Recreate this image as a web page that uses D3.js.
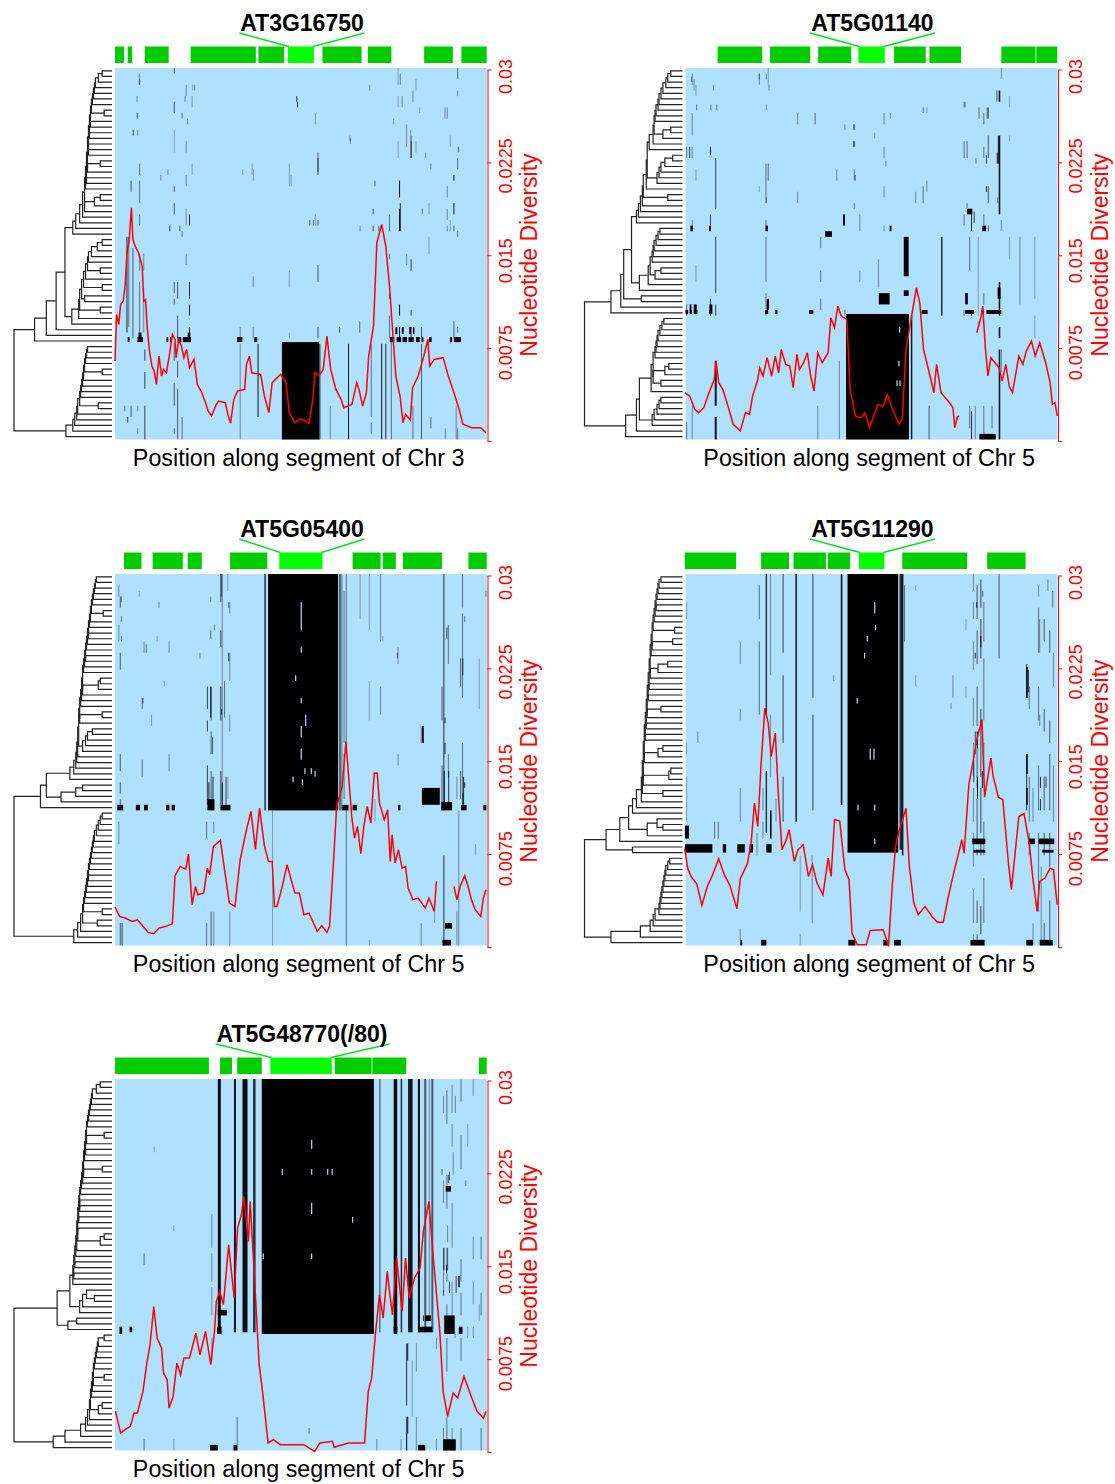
<!DOCTYPE html>
<html>
<head>
<meta charset="utf-8">
<script src="https://cdn.jsdelivr.net/npm/d3@7"></script>
<style>
  body { margin: 0; background: #fff; }
  svg { display: block; font-family: "Liberation Sans", Arial, sans-serif; }
</style>
</head>
<body>
<div id="chart"></div>
<script>
// Common axis values
const yTicks = [0.03, 0.0225, 0.015, 0.0075, 0];
const yTickLabels = ["0.03", "0.0225", "0.015", "0.0075", ""];
const yTickShift = [6.5, 3, 5, 4, 0];
const rowCount = 66;

const titles = ["AT3G16750", "AT5G01140", "AT5G05400", "AT5G11290", "AT5G48770(/80)"];
const xLabels = ["Position along segment of Chr 3", "Position along segment of Chr 5", "Position along segment of Chr 5", "Position along segment of Chr 5", "Position along segment of Chr 5"];

// Exons as [start, end] in % of the segment, focal gene separately
const exons1 = [[0.2, 2.6], [3.6, 4.8], [8.2, 14.6], [20.5, 38.0], [38.7, 45.6], [55.9, 66.4], [68.1, 74.4], [83.2, 90.9], [93.2, 100]];
const exons2 = [[8.8, 20.8], [22.9, 33.7], [35.8, 44.7], [56.2, 64.7], [65.7, 74.2], [85.0, 94.2], [94.4, 100]];
const exons3 = [[2.6, 7.3], [10.3, 18.4], [19.7, 23.5], [31.1, 41.1], [64.0, 71.5], [72.1, 75.6], [77.5, 88.0], [95.1, 100]];
const exons4 = [[0, 13.8], [20.5, 28.0], [29.2, 37.9], [38.4, 44.4], [58.4, 75.8], [81.2, 91.5]];
const exons5 = [[0.2, 25.4], [28.4, 31.6], [33.0, 39.6], [59.2, 69.1], [69.3, 78.4], [97.9, 100]];
const focal = [[46.6, 53.6], [46.6, 53.7], [44.3, 55.9], [46.8, 53.6], [41.9, 58.4]];
const leaderEnds = [[33.6, 67.2], [33.6, 67.2], [33.6, 67.2], [33.6, 67.2], [27.2, 73.9]];

// Nucleotide diversity as [position %, pi x 1000], null breaks the line
const line1 = [[0.2,6.46],[0.6,10.22],[1.2,9.42],[1.7,11.03],[2.4,11.3],[2.9,12.51],[3.4,15.2],[4.0,16.27],[4.6,18.83],[5.0,16.27],[5.6,15.74],[6.5,15.2],[7.5,14.12],[7.9,11.3],[8.4,11.43],[8.8,9.28],[9.4,7.4],[10.1,6.05],[10.7,5.65],[11.3,4.57],[12.0,6.86],[12.7,5.25],[13.2,5.78],[14.0,5.51],[14.9,7.13],[15.6,8.61],[16.3,8.2],[16.6,6.73],[17.3,8.2],[18.0,7.67],[18.7,6.73],[19.4,7.4],[20.2,5.92],[21.4,6.59],[22.3,4.57],[23.5,3.9],[24.5,3.09],[25.2,2.42],[26.1,2.02],[27.4,2.96],[28.0,3.23],[29.8,3.09],[30.5,2.15],[31.2,1.43],[32.1,3.36],[33.1,4.04],[35.0,4.17],[35.5,6.19],[36.3,6.86],[36.9,5.51],[39.3,5.38],[40.3,3.63],[41.5,2.29],[42.4,4.71],[44.6,5.38],[46.1,4.71],[47.0,2.29],[48.5,1.48],[49.9,1.75],[50.9,1.69],[52.3,1.43],[53.3,3.36],[53.9,5.51],[55.0,5.25],[56.1,5.78],[57.1,8.47],[58.1,5.78],[59.5,4.17],[60.9,3.36],[61.6,2.69],[63.8,2.96],[65.1,4.71],[65.7,4.17],[66.7,2.82],[67.7,3.9],[68.3,6.86],[69.6,9.28],[70.5,16.0],[71.8,17.49],[72.9,15.74],[73.9,12.51],[74.9,8.2],[75.6,5.25],[76.8,3.5],[77.5,1.48],[78.2,2.15],[79.5,1.69],[80.1,4.3],[81.6,5.25],[83.0,6.73],[84.2,8.2],[84.7,6.05],[85.9,6.59],[88.3,6.73],[89.7,5.25],[91.2,3.9],[92.6,2.56],[93.6,1.35],[96.0,1.08],[98.4,1.08],[99.8,0.67]];
const line2 = [[0,3.9],[1.3,3.63],[2.7,2.56],[3.7,2.29],[5.1,2.69],[6.5,3.9],[7.9,4.97],[8.4,6.46],[9.1,4.71],[10.2,4.17],[11.6,2.82],[13.0,1.35],[14.9,0.81],[16.3,2.29],[17.4,2.15],[18.2,3.63],[19.6,4.97],[20.1,5.92],[21.0,5.25],[22.1,6.73],[23.3,5.25],[24.3,6.86],[25.2,5.51],[25.9,7.4],[27.1,6.19],[28.2,6.05],[29.1,4.3],[30.1,7.0],[30.8,5.78],[31.9,6.32],[32.9,7.13],[33.8,5.25],[34.7,4.04],[35.7,7.13],[36.9,6.32],[38.5,7.13],[39.2,9.95],[40.2,9.15],[41.1,10.9],[42.0,10.09],[43.5,9.82],[44.4,4.17],[45.8,2.02],[47.2,1.88],[48.4,2.29],[49.6,1.08],[51.0,2.29],[51.9,2.96],[53.3,2.82],[54.4,3.76],[55.6,2.69],[57.5,1.35],[58.4,1.75],[59.4,7.4],[61.2,10.63],[62.2,12.38],[63.1,11.16],[64.1,7.4],[65.0,6.32],[66.9,3.9],[67.6,6.19],[68.8,3.9],[71.1,3.09],[72.0,2.69],[72.5,1.08],[73.2,1.96],[73.7,2.02],null,[78.4,8.74],[79.5,9.95],[80.0,10.9],[80.7,7.53],[81.4,5.25],[82.2,6.73],[83.3,6.32],[84.4,5.92],[85.2,4.84],[86.2,6.19],[87.1,4.44],[88.0,3.9],[89.7,6.86],[90.8,6.19],[91.7,7.26],[93.1,8.07],[94.1,6.86],[95.3,7.94],[96.9,6.32],[98.1,4.71],[98.7,2.96],[99.4,3.09],[100,2.02]];
const line3 = [[0.2,3.23],[1.4,2.47],[2.9,2.34],[4.8,2.07],[6.2,2.2],[7.7,1.67],[9.1,1.18],[10.6,1.08],[12.0,1.53],[13.9,1.67],[15.6,1.88],[16.3,5.76],[17.7,6.51],[19.2,6.29],[19.9,7.53],[20.9,3.42],[21.8,4.9],[22.4,4.22],[24.0,4.36],[25.0,6.37],[25.6,5.83],[26.6,8.12],[28.5,8.61],[29.6,6.24],[30.9,3.55],[32.4,3.28],[33.8,7.05],[35.5,9.47],[36.7,10.95],[37.9,7.88],[39.0,11.22],[40.3,8.18],[41.4,6.91],[42.4,6.91],[43.0,3.28],[43.7,3.28],[45.1,4.9],[46.4,6.64],[47.5,5.43],[48.5,4.36],[49.7,4.36],[50.9,2.61],[52.3,2.74],[54.5,1.26],[55.7,1.72],[57.1,1.18],[57.8,1.67],[59.0,7.59],[59.7,11.35],[61.2,12.97],[62.2,16.6],[63.2,12.7],[63.8,10.4],[64.5,8.79],[65.3,9.74],[66.2,7.53],[67.0,9.74],[67.9,11.35],[68.9,10.0],[69.8,14.05],[70.6,14.05],[71.2,11.62],[72.5,10.27],[73.4,11.08],[74.1,6.91],[74.6,9.07],[75.4,6.78],[76.3,7.85],[77.3,6.37],[78.2,6.51],[78.9,4.76],[80.2,3.82],[81.6,3.95],[83.5,3.15],[84.5,3.95],[85.9,2.87],[86.5,5.3],null,[91.2,4.9],[92.0,3.82],[92.9,4.9],[94.1,5.76],[95.0,4.9],[95.9,3.82],[96.9,3.01],[98.4,2.47],[99.1,3.95],[99.8,4.63]];
const line4 = [[0,7.93],[0.8,6.32],[1.8,5.64],[3.2,5.1],[4.6,3.36],[6.0,4.84],[7.4,5.78],[9.1,7.13],[10.7,5.78],[12.1,4.98],[14.0,3.09],[14.9,5.51],[16.8,6.73],[17.8,8.39],[18.7,11.62],[19.6,9.74],[20.5,14.85],[21.5,19.29],[22.4,18.08],[23.2,15.38],[24.3,17.27],[25.1,12.44],[26.1,7.85],[27.1,8.53],[28.0,9.47],[29.4,6.91],[30.4,7.85],[31.8,8.26],[33.2,5.7],[34.3,6.64],[35.5,5.16],[37.1,4.22],[38.5,7.18],[39.3,5.7],[40.2,10.3],[41.6,10.17],[43.0,6.24],[44.1,5.43],[44.9,1.13],[46.3,0.19],[48.7,0.19],[49.8,1.34],[53.3,1.4],[54.7,0.05],[55.7,4.9],[56.6,8.12],[57.5,9.33],[59.4,11.2],[60.3,6.51],[61.5,3.55],[62.7,2.61],[64.5,3.28],[66.4,2.47],[67.8,2.0],[69.4,2.0],[70.6,3.82],[72.0,5.7],[74.4,8.66],[75.0,7.58],[76.3,13.2],[77.2,14.58],[78.6,17.0],[79.8,18.35],[80.5,12.1],[82.2,15.25],[82.8,13.77],[84.2,12.1],[85.4,11.89],[86.9,6.78],[87.7,4.63],[89.7,10.54],[91.1,10.76],[92.5,8.39],[93.4,5.7],[94.6,2.88],[95.3,5.3],[96.7,5.57],[98.1,6.37],[99.0,6.24],[100,3.42]];
const line5 = [[0.3,3.3],[1.7,1.53],[2.9,1.8],[4.3,2.07],[5.3,3.15],[6.2,3.15],[7.7,4.9],[8.8,7.32],[9.6,8.66],[10.6,11.75],[11.5,9.2],[12.7,8.39],[13.2,6.37],[14.2,5.84],[14.7,3.55],[15.8,4.49],[16.8,7.18],[17.8,6.24],[18.7,7.59],[20.2,7.59],[21.1,8.66],[21.9,9.6],[23.0,7.85],[24.5,9.74],[25.9,7.05],[26.9,9.74],[27.4,12.16],[28.3,12.97],[29.3,11.89],[30.7,16.73],[32.2,12.43],[33.1,18.08],[34.1,19.15],[34.8,20.64],[36.0,17.0],[36.5,20.23],[37.6,14.31],[38.9,7.05],[39.8,4.9],[41.3,0.73],[42.7,1.0],[44.6,0.59],[48.0,0.59],[50.9,0.59],[53.8,0.05],[55.2,0.73],[58.6,0.86],[59.0,0.38],[62.9,0.73],[67.2,0.73],[68.2,4.9],[69.1,5.97],[70.1,9.47],[71.2,12.7],[72.2,10.81],[73.3,14.58],[73.9,12.97],[74.7,11.08],[75.8,15.66],[77.3,11.35],[78.2,15.66],[79.2,12.43],[80.6,14.04],[82.1,14.85],[83.0,17.81],[84.5,20.23],[85.6,15.92],[87.4,9.74],[88.3,4.9],[89.5,2.88],[91.0,4.76],[92.2,4.36],[93.9,6.1],[96.0,4.36],[97.4,3.28],[99.1,2.74],[99.8,3.28]];

// Merge height between each pair of neighbouring rows, this fixes the dendrogram
const tree1 = [10,14,17,18,19,20,21,8,22,22,23,23,24,24,24,25,12,25,26,26,27,28,12,18,28,30,33,37,40,48,10,15,21,24,25,12,27,29,10,31,28,33,12,34,41,57,67,79,100,25,26,27,28,10,29,30,31,32,33,14,35,36,38,40,47];
const tree2 = [12,15,17,20,22,24,25,27,28,29,12,20,30,34,36,10,18,22,24,26,37,40,15,41,43,45,47,52,23,25,27,29,30,31,33,22,28,35,44,60,42,63,73,100,19,21,23,25,26,27,28,30,14,18,30,22,32,44,22,24,26,29,31,47,58];
const tree3 = [16,17,18,19,20,21,9,22,23,24,24,25,26,27,27,28,29,30,12,14,30,31,32,33,10,33,34,20,25,27,30,35,36,37,39,43,67,30,37,52,73,100,10,12,14,16,18,19,20,21,22,23,24,24,25,26,27,28,29,10,30,15,32,35,39];
const tree4 = [22,24,25,26,27,27,28,29,30,8,31,10,31,32,33,15,25,33,34,34,35,35,36,22,36,37,37,38,38,39,20,25,39,40,12,14,40,41,20,42,47,51,55,26,20,36,64,78,51,100,13,15,17,18,19,20,21,22,23,24,28,30,33,43,73];
const tree5 = [12,16,20,21,22,23,24,25,26,8,26,27,27,28,29,10,29,30,31,32,33,33,33,34,34,35,35,8,12,36,37,38,38,39,39,40,43,26,18,30,33,56,36,45,100,8,14,15,16,17,18,19,8,19,20,21,22,10,14,23,25,27,32,48,60];

// Solid black cells as [start %, end %, first row, last row]
const blocks1 = [[45,55,48.7,66],[3.6,4.1,47.8,48.7],[6.2,7.7,47.8,48.7],[14,14.5,47.8,48.7],[15,15.4,47.8,48.7],[17,18,47.8,48.7],[18.4,20.6,47.8,48.7],[33,34.4,47.8,48.7],[37.6,38.4,47.8,48.7],[74,75.2,47.8,48.7],[75.8,77,47.8,48.7],[77.4,78.6,47.8,48.7],[79,80.4,47.8,48.7],[81,82,47.8,48.7],[82.5,83,47.8,48.7],[84.5,85.2,47.8,48.7],[90.2,90.7,47.8,48.7],[91.2,93.1,47.8,48.7],[75.5,76,46,47.3],[77.2,77.7,46,47.3],[79.2,79.7,46,47.3],[80.2,80.6,46,47.3],[6.5,7.3,47,47.8],[19.7,20.4,47,47.8]];
const blocks2 = [[43.3,60.2,43.7,66],[37.7,39.5,29,30],[58.8,60.1,30,37],[52.1,55,40,42],[58.8,60.1,39.5,40.5],[42.5,43,26,28],[0.2,0.9,43,43.7],[1.3,1.9,43,43.7],[2.4,3.4,43,43.7],[6.5,7.4,43,43.7],[21.5,22.4,43,43.7],[24.3,24.9,43,43.7],[33.4,34.5,43,43.7],[63.6,65.2,43,43.7],[75.3,77.7,43,43.7],[79.6,80.3,43,43.7],[81,85,43,43.7],[79.1,83.5,65,66],[1.3,1.8,42,43],[2.4,3.2,42,43],[6.6,7.4,42,43],[22,22.6,41,43],[75.8,77.2,25,26],[1.5,2.2,28,29],[6.5,7,28,29],[21.7,22.3,28,29],[55,55.5,28,29],[79.9,80.9,28,29],[75.3,76,40,42],[84,84.8,39,41]];
const blocks3 = [[41.3,60.1,0,42],[82.6,87.4,38,41],[88.8,90.7,62,63],[88.1,90.4,65,66],[82.6,83.1,27,30],[0.8,2.4,41,42],[5.8,6.9,41,42],[8,9,41,42],[13.9,14.8,41,42],[15.4,16.3,41,42],[25,26.9,40,42],[28.5,31.2,41,42],[61.2,62.9,41,42],[64,65.2,41,42],[76.2,76.8,41,42],[87.8,90.7,40.5,42],[93.1,94.6,41,42],[99.1,99.9,41,42]];
const blocks4 = [[43.7,57.3,0,49.5],[22.9,23.3,42,47],[0,1.1,44.7,47],[0,7.4,48,49.5],[10.2,11.1,48,49.5],[14.1,16.1,48,49.5],[17.4,18.3,48,49.5],[21.9,23.3,48,49.5],[77.2,80.7,47,48],[77.5,80.7,49,49.5],[92.2,94,47,48],[95,99.2,47,48],[96,99,49,49.5],[14.9,15.4,65,66],[20.5,21.9,65,66],[43.9,45.8,65,66],[53.3,54.7,65,66],[56.2,58,65,66],[76.7,80.5,65,66],[91.7,93.5,65,66],[95.3,98.8,65,66]];
const blocks5 = [[39.6,69.7,0,45.3],[88.6,91.4,42,45.3],[27.8,30.2,41,42],[89,90.4,19,20],[81.6,85.4,44,45],[83.5,85,42,43],[1.4,2.1,44,45.3],[4.1,4.8,44,45],[25.7,27.8,65,66],[32,33,65,66],[88.3,91.7,64,66],[81.6,83.5,65,66],[75,76,44,45.3],[27.6,28.8,44,45.3],[92.5,93.5,44,45.3]];

// Thin black marks as [position %, strength, [first row, last row, ...], width]
const marks1 = [[3.4,0.85,[30,47]],[3.9,0.5,[30,46]],[5.0,0.6,[32,48]],[6.8,0.5,[2,3,17,19,20,24,26,28,33,36,38,47]],[6.3,0.4,[8,9,11,12,60,61,64,65]],[3.6,0.7,[62,63]],[8.2,0.7,[50,52,54,57,60,66]],[7.9,0.4,[33,36,39,47]],[16.1,0.6,[0,1,6,8,21,22,24,26,38,40,41,42,49,52,56,60,64,65]],[17.0,0.6,[38,41,44,48,52,55,57,66]],[20.2,0.8,[26,28,38,41,42,44,46,48]],[19.3,0.4,[3,5,13,15,19,21,25,28,33,35]],[20.9,0.3,[5,7,17,19]],[21.6,0.4,[3,4]],[18.2,0.5,[8,9,29,30,62,66]],[33.8,0.4,[46,48,49,66]],[37.3,0.4,[37,39,46,48]],[38.6,0.9,[49,62]],[37.0,0.3,[17,19]],[49.0,0.8,[5,6]],[47.0,0.3,[17,21,36,39,47,48]],[54.7,0.6,[15,19,27,28,35,38,46,48]],[55.2,0.9,[49,66]],[54.0,0.3,[8,10,26,28]],[62.9,0.9,[49,66]],[63.3,0.4,[12,13]],[69.0,0.5,[49,62,63,65]],[71.8,0.9,[49,66]],[72.9,0.8,[49,66]],[74.4,0.5,[48,66]],[76.6,0.9,[20,23,25,29,42,44,46,48]],[76.2,0.3,[0,3,5,7,13,16]],[78.5,0.4,[10,14,33,35]],[79.7,0.7,[12,16,34,36,43,44,46,48]],[81.0,0.3,[2,4,13,15]],[82.5,0.6,[46,48,49,66]],[85.0,0.5,[62,64]],[89.4,0.4,[7,9,21,23,25,27,28,29]],[91.2,0.6,[19,20,24,26,28,29,45,48]],[90.2,0.3,[12,14,27,29,48,49]],[92.2,0.5,[0,2,16,18,29,30,46,47,64,66]],[84.5,0.3,[24,26,30,33]],[73.9,0.5,[26,29,33,34,40,41,44,48]],[69.5,0.6,[25,26,28,29]],[71,0.5,[28,29]],[52.5,0.6,[27,28]],[53.5,0.5,[27,28]],[14.9,0.7,[28,29]],[17.6,0.6,[28,29]],[4.5,0.6,[20,22,60,62]],[2.8,0.5,[60,61]],[58,0.4,[60,66]],[60.5,0.6,[46,47]],[65.9,0.5,[45,47]],[66,0.4,[28,29]],[80.2,0.5,[60,66]],[88.9,0.4,[64,66]],[91.8,0.4,[60,66]],
  [6.7,0.4,[1,3]],[6.1,0.4,[5,6,8,9]],[5.1,0.7,[11,12]],[16.1,0.3,[11,15]],[19,0.4,[5,6]],[19.7,0.4,[9,10]],[21.1,0.3,[3,4]],[14.4,0.4,[18,19]],[12.5,0.4,[19,20]],[37.4,0.3,[18,20]],[34.5,0.3,[18,19]],[49.2,0.8,[6,7]],[54.7,0.6,[16,18.5]],[47.5,0.3,[19,21]],[63.4,0.4,[12.5,13.5]],[68.6,0.4,[3,4]],[76.8,0.4,[1,3]],[77.3,0.4,[5,7]],[80.2,0.4,[4,6]],[79.7,0.5,[13,16]],[82,0.3,[7,8]],[85,0.4,[17,18]],[88.8,0.4,[7,9]],[91.2,0.5,[19,20]],[92.2,0.4,[4,5]],[92.4,0.6,[14,15]],[91.2,0.4,[24,26]],[76.8,0.8,[24,29]],[83.6,0.4,[15,16]],[82.7,0.5,[25,26]],[75,0.3,[9,10]],[79.6,0.3,[11,12]],[70,0.5,[20,21]]];
const marks2 = [[8.3,0.7,[16,25,30,40,42,44]],[8.3,0.9,[52,60,62,66],2],[6.9,0.7,[14,15,26,28,41,44]],[2.0,0.4,[1,3,8,12,14,16,27,29,60,66]],[3.0,0.3,[3,5,18,20,35,38]],[21.8,0.5,[17,24,27,29,30,38,40,44]],[22.4,0.3,[0,3]],[20.0,0.4,[1,3]],[35.7,0.4,[60,66]],[41.5,0.4,[52,66]],[45.5,0.5,[10,11,13,14,18,20,24,25]],[69.0,0.8,[30,44],1.5],[65.6,0.6,[60,66]],[60.9,0.9,[44,66],1.5],[75.0,0.5,[6,7,13,16,26,28,43,44]],[77,0.8,[25,29,43,44,61,66]],[78.8,0.3,[30,44,45,46]],[80.3,0.5,[8,10,14,16,26,28,40,42,60,65]],[81.5,0.6,[7,9,12,16,21,24,28,29]],[84.5,0.9,[4,6,12,26,38,44,46,48,50,66],1.6],[85,0.4,[0,2,27,29,50,54]],[90.0,0.4,[30,42]],[94,0.3,[30,41,44,48]],[87.2,0.3,[5,7,12,13,30,34]],[36.5,0.5,[30,32,36,38,41,43]],[30.3,0.4,[8,10,22,24]],[40.8,0.4,[18,20]],[53.5,0.4,[8,10,14,16,21,23,28,29]],[62,0.4,[22,24]],[64,0.5,[7,8,21,24]],[43,0.5,[43,44]],[52,0.4,[34,39]],[47,0.4,[26,29,36,38]],[0.5,0.5,[14,16,42,44,63,66]],[82.5,0.5,[60,64]],[78,0.4,[60,66]],[76.5,0.5,[30,36,60,64]],
  [1.8,0.4,[1.5,2.5]],[2.5,0.4,[2,4]],[7.7,0.4,[3,4]],[20,0.4,[1,2]],[21.9,0.4,[1,2]],[22.6,0.4,[3,4]],[7,0.5,[6.5,7.5]],[3.2,0.5,[6.5,7.5]],[8.6,0.5,[6.5,7.5]],[21.9,0.4,[6.5,7.5]],[35,0.5,[8,10]],[55.2,0.4,[8,9]],[65,0.3,[7,8]],[75.3,0.4,[6,7]],[79,0.5,[7,9]],[81.2,0.6,[7,9]],[83.8,0.6,[4,6]],[84.2,0.9,[12,17]],[1.3,0.7,[14,16]],[6.9,0.8,[14.5,15.5]],[45.4,0.6,[10,11]],[43,0.4,[10,11]],[51,0.3,[11.5,12.5]],[45.4,0.8,[13,14]],[75.8,0.5,[13,16]],[78.2,0.5,[16,17]],[81,0.7,[15.5,17]],[83.9,0.9,[15,17]],[22.4,0.5,[17,20]],[54,0.4,[16.5,17.5]],[45.8,0.5,[19,20]],[65,0.4,[20,22]],[81,0.8,[21,22]],[75.8,0.5,[24,25]],[77.7,0.7,[25.5,27.5]],[84,0.5,[23,24]],[20,0.3,[21,22]],[21.9,0.4,[23,24]]];
const marks3 = [[1.6,0.6,[4,6,14,17,32,35,37,39,40,42,62,66]],[25,0.7,[20,24,26,28,34,41]],[26,0.6,[20,26,28,32,35,41,60,66]],[28.6,0.7,[0,5,10,13,20,26,35,41]],[29.0,0.4,[0,42]],[31,0.4,[5,7,14,19,25,28,60,66]],[40.5,0.8,[0,42],1.5],[42.5,0.3,[42,66]],[60.6,0.7,[0,42],1.5],[61.1,0.5,[0,42]],[62.3,0.5,[0,32,42,66]],[61.7,0.5,[3,30,32,40]],[88.5,0.8,[0,42,50,66]],[88.0,0.6,[20,26,34,42]],[93.5,0.5,[0,6,7,16,16,22,30,41]],[93.0,0.6,[15,20,35,40]],[71.5,0.4,[0,12,20,25]],[68.5,0.3,[0,10,19,26,65,66]],[66,0.3,[0,8]],[76.2,0.4,[13,16,32,34]],[82.4,0.4,[27,30,62,66]],[98,0.3,[15,24]],[14.7,0.4,[12,14,32,35]],[8,0.4,[12,14]],[7.5,0.5,[22,24,33,36]],[1.2,0.4,[2,4,9,12,44,48]],[10,0.3,[25,27]],[26.7,0.4,[44,46,60,66]],[89.7,0.5,[9,16,32,36]],[92.5,0.4,[42,66]],[97,0.3,[48,50]],[30.5,0.3,[0,3,36,40]],[2.1,0.7,[62,66]],[24.8,0.5,[44,47,62,66]],[86,0.3,[58,62]],[92,0.4,[36,40,60,66]],[70,0.3,[40,44]],
  [1.9,0.5,[4,5,7.5,8.5,11,12]],[6.7,0.3,[3,4]],[12,0.4,[5,6]],[8.6,0.5,[12.5,14]],[11.5,0.3,[11,12]],[25.9,0.4,[4,5]],[25.9,0.5,[10,11.5]],[26.9,0.4,[9,10]],[28.8,0.5,[0,4]],[30.7,0.5,[5,6]],[30.7,0.7,[14,15.5]],[23,0.4,[14,15]],[13.4,0.3,[19,20]],[7.7,0.6,[22,23]],[25.9,0.9,[20,25.5]],[28.8,0.7,[24,25]],[29.6,0.5,[19,25.5]],[26.4,0.6,[29,32]],[76,0.5,[14,15]],[72.1,0.3,[11,12]],[89.3,0.7,[9.5,11.5]],[94.1,0.5,[7.5,8.5]],[93.6,0.7,[15,18]],[88.8,0.8,[25.5,26.5]],[88.8,0.8,[30,32]],[94.1,0.8,[37,38]],[93.6,0.7,[39,41]],[99.8,0.4,[3,4]],[25.4,0.9,[37,41]],[26.5,0.8,[36,41]],[29,0.9,[37,41]],[30,0.7,[36,41]],[88.6,0.9,[35,41]],[89.8,0.8,[35,41]],[93.8,0.8,[36,41]]];
const marks4 = [[42.1,0.95,[0,41],1.6],[29.9,0.95,[0,44],1.4],[26.4,0.7,[0,14,18,30,36,44]],[34.4,0.5,[0,22,25,42],1.4],[21.9,0.8,[0,25,35,46],1.4],[23,0.4,[0,18,25,36]],[20,0.5,[2,8,12,25]],[14.9,0.4,[12,16,24,26,38,44,63,65]],[84.4,0.6,[0,15]],[58.0,0.8,[0,49],2.5],[58.5,0.9,[0,50],1.5],[59,0.5,[2,12]],[77.5,0.4,[0,3,5,8,12,17,22,27,30,36,38,44,46,52,56,62,64,66]],[78.5,0.6,[2,8,10,16,20,27,28,38,40,48,49,50,58,62,64,66]],[79.5,0.7,[1,6,8,15,24,27,26,36,38,46,48,50,59,64,65,66]],[80.3,0.5,[5,12,15,26,30,36,44,50,54,62]],[91.8,0.8,[16,22,32,42]],[92.5,0.5,[20,24,36,44,46,50]],[95,0.5,[6,14,20,26,34,42,46,60]],[96.5,0.6,[8,12,24,28,36,42,46,50,62,66]],[98,0.6,[10,14,26,30,32,42,46,52,58,66]],[99,0.4,[14,20,34,44]],[93.5,0.4,[38,44,62,66]],[95.7,0.4,[52,66]],[0.5,0.3,[5,8,30,32,36,44]],[8,0.5,[44,47]],[9,0.5,[44,47]],[3.5,0.4,[28,30]],[31,0.3,[50,60,64,66]],[34.2,0.4,[50,62]],[21,0.4,[38,42,44,47]],[24.5,0.4,[40,44]],[19.4,0.4,[46,50]],[62,0.3,[2,3,18,20]],[72,0.4,[18,22]],[75.5,0.3,[8,10,20,22]],[71.5,0.4,[23,24]],
  [91.9,0.9,[16.5,22,32,35.5,38,41],1.6],[92.3,0.7,[17,21]],[78.6,0.9,[28,31]],[78,0.7,[28,32]],[77.6,0.7,[33,37]],[79.9,0.9,[35,38]],[78.6,0.9,[36,40]],[95.5,0.8,[36,38,40,42]],[97,0.7,[36,38]],[95.3,0.4,[8,14,25,27]],[98.8,0.5,[3,6]],[97.5,0.4,[1,3]],[95,0.4,[2,4]],[79.5,0.9,[11,13]],[78,0.8,[14,15]],[78.4,0.8,[5,6]],[80,0.6,[3,4]],[40,0.4,[18,19]]];
const marks5 = [[28.2,0.95,[0,45],3],[32.4,0.9,[0,45],2],[35.1,0.95,[0,45],5],[37.6,0.8,[0,45],2.5],[71.3,0.5,[0,45],1.5],[75.5,0.95,[0,45],3.5],[77.1,0.8,[0,45],1.5],[79.5,0.9,[0,45],4.5],[81.8,0.95,[0,45],2],[83.5,0.6,[0,45],2],[85.4,0.6,[0,45],2],[84.6,0.4,[0,42]],[78.5,0.8,[47,58,60,66]],[81.1,0.4,[47,52,60,66]],[89.3,0.5,[2,8,17,23,30,36,40,44,46,52,60,66]],[93.1,0.5,[0,4,10,16,32,36,38,42,46,50,62,66]],[90.7,0.4,[1,6,8,12,22,30,36,42,62,66]],[88.4,0.4,[3,6,18,22,30,38,62,66]],[96.4,0.4,[0,3,28,32,36,40,44,46]],[94.9,0.3,[8,12,44,46]],[26.2,0.4,[24,30,31,36,37,42,46,50]],[33,0.5,[60,66]],[16,0.3,[26,27,64,66]],[10.7,0.3,[12,13]],[8,0.5,[31,33,64,66]],[52.3,0.5,[62,63]],[91.8,0.7,[35,38]],[92.5,0.7,[35,37]],[89.5,0.5,[30,34]],[98.5,0.5,[28,32,38,42,62,66]],[86.5,0.4,[46,48,64,66]],[77,0.4,[64,66]],[70.5,0.4,[64,66]],
  [88.5,0.8,[30,34]],[89.2,0.9,[33,34.5]],[90,0.7,[36,38]],[92.6,0.9,[35,37]],[88.4,0.6,[37.5,38.5]],[84.5,0.8,[42,43]],[83,0.8,[42,43]],[89.5,0.4,[26,29]],[91,0.4,[13,17]],[91.6,0.4,[3,6]],[89.7,0.6,[17,18.5]],[88,0.6,[16,17]],[90,0.6,[16.5,18]],[94.4,0.5,[18,19]],[98,0.3,[40,43]],[91.5,0.4,[45,46]],[80,0.3,[50,60]],[78.8,0.9,[47,50]],[78.8,0.9,[60,63]],[78.5,0.5,[63,66]]];

// Pale gaps inside the black regions as [position %, first row, last row]
const specks1 = [];
const specks2 = [[57.5,52,53],[57,55.5,56.5],[57.8,55.5,56.5],[57.7,46,47]];
const specks3 = [[50.2,5,10],[50.2,13,14],[48.7,18,19],[50.2,22,23],[51.4,25,27],[50.2,27,29],[50.2,31,33],[51.2,34.5,35.5],[52.9,34.5,35.5],[53.9,35,36],[50.5,36.5,37.5],[48,36,37]];
const specks4 = [[51,5,7],[51.2,9,10],[49,11,12],[48.3,14,15],[46.3,22,23],[50.8,31,33],[49.8,31,33],[46.5,41,42],[51,41,42],[51,47,48]];
const specks5 = [[53,10.8,12.4],[45.1,16,17],[53,16,17],[57.3,16,17],[58.5,16,17],[53,22,24],[64,24.5,25.5],[40,31,32],[53,31,32]];

const exonSets = [exons1, exons2, exons3, exons4, exons5];
const lineSets = [line1, line2, line3, line4, line5];
const treeSets = [tree1, tree2, tree3, tree4, tree5];
const blockSets = [blocks1, blocks2, blocks3, blocks4, blocks5];
const markSets = [marks1, marks2, marks3, marks4, marks5];
const speckSets = [specks1, specks2, specks3, specks4, specks5];

// Layout of the five panels
const heatLefts = [115, 685.5, 115, 685.5, 115];
const heatTops = [68, 68, 574, 574, 1079];
const heatWidth = 372;
const heatHeight = 371.5;

const heatBg = "#b0e0ff";

const svg = d3.select("#chart").append("svg").attr("width", 1115).attr("height", 1484);

// Split the rows at the highest merge until single rows are left
function buildTree(heights, a, b) {
  if (a === b) return { row: a };
  let top = a;
  for (let i = a; i < b; i++) if (heights[i] > heights[top]) top = i;
  return { height: heights[top], children: [buildTree(heights, a, top), buildTree(heights, top + 1, b)] };
}

titles.forEach((title, p) => {
  const left = heatLefts[p];
  const top = heatTops[p];
  const x = d3.scaleLinear().domain([0, 100]).range([left - 0.7, left + heatWidth - 0.3]);
  const row = d3.scaleLinear().domain([0, rowCount]).range([top, top + heatHeight]);
  const y = d3.scaleLinear().domain([0, 0.03]).range([top + 373, top + 1.5]);
  const g = svg.append("g");

  // Heat map background and cells
  g.append("rect").attr("x", left).attr("y", top).attr("width", heatWidth).attr("height", heatHeight).attr("fill", heatBg);

  g.selectAll(".block").data(blockSets[p]).join("rect")
    .attr("class", "block")
    .attr("x", (d) => x(d[0]))
    .attr("width", (d) => x(d[1]) - x(d[0]))
    .attr("y", (d) => row(d[2]))
    .attr("height", (d) => row(d[3]) - row(d[2]))
    .attr("fill", "#000");

  const runs = [];
  markSets[p].forEach((m) => {
    for (let i = 0; i < m[2].length; i += 2) runs.push({ pos: m[0], alpha: m[1], r0: m[2][i], r1: m[2][i + 1], w: m[3] || 1 });
  });
  g.selectAll(".mark").data(runs).join("rect")
    .attr("class", "mark")
    .attr("x", (d) => x(d.pos) - d.w / 2)
    .attr("width", (d) => d.w)
    .attr("y", (d) => row(d.r0))
    .attr("height", (d) => row(d.r1) - row(d.r0))
    .attr("fill", "#000")
    .attr("opacity", (d) => d.alpha);

  g.selectAll(".speck").data(speckSets[p]).join("rect")
    .attr("class", "speck")
    .attr("x", (d) => x(d[0]) - 0.6)
    .attr("width", 1.2)
    .attr("y", (d) => row(d[1]))
    .attr("height", (d) => row(d[2]) - row(d[1]))
    .attr("fill", heatBg);

  // Exon track
  g.selectAll(".exon").data(exonSets[p]).join("rect")
    .attr("class", "exon")
    .attr("x", (d) => x(d[0]))
    .attr("width", (d) => x(d[1]) - x(d[0]))
    .attr("y", top - 21.5)
    .attr("height", 16.5)
    .attr("fill", "#00cc00");

  const f = focal[p];
  g.append("rect")
    .attr("x", x(f[0]))
    .attr("width", x(f[1]) - x(f[0]))
    .attr("y", top - 21.5)
    .attr("height", 16.5)
    .attr("fill", "#00ff00");

  // Lines from the gene name down to the focal exon
  const leader = leaderEnds[p];
  g.append("path")
    .attr("d", `M${x(leader[0])},${top - 35}L${x(f[0]) + 1},${top - 21.5}M${x(leader[1])},${top - 35}L${x(f[1]) - 1},${top - 21.5}`)
    .attr("fill", "none")
    .attr("stroke", "#00e020")
    .attr("stroke-width", 1.4);

  g.append("text")
    .attr("x", x(50.4))
    .attr("y", top - 37)
    .attr("text-anchor", "middle")
    .attr("font-size", 23)
    .attr("font-weight", "bold")
    .text(title);

  // Dendrogram
  const tx = d3.scaleLinear().domain([0, 100]).range([left - 3, left - 101]);
  const root = d3.hierarchy(buildTree(treeSets[p], 0, rowCount - 1));
  root.eachAfter((n) => {
    if (n.children) {
      n.py = d3.mean(n.children, (c) => c.py);
      n.px = tx(n.data.height);
    } else {
      n.py = row(n.data.row + 0.5);
      n.px = tx(0);
    }
  });
  g.append("g").selectAll("path").data(root.descendants().filter((n) => n.children)).join("path")
    .attr("d", (n) => {
      const [a, b] = n.children;
      return `M${a.px},${a.py}H${n.px}V${b.py}H${b.px}`;
    })
    .attr("fill", "none")
    .attr("stroke", "#222")
    .attr("stroke-width", 1.2);

  // Diversity line
  const line = d3.line()
    .defined((d) => d !== null)
    .x((d) => x(d[0]))
    .y((d) => y(d[1] / 1000));
  g.append("path")
    .datum(lineSets[p])
    .attr("d", line)
    .attr("fill", "none")
    .attr("stroke", "#f00")
    .attr("stroke-width", 1.5);

  // Right axis
  const axis = g.append("g")
    .attr("transform", `translate(${left + heatWidth + 0.5},0)`)
    .call(d3.axisRight(y).tickValues(yTicks).tickSize(4).tickSizeOuter(0).tickFormat((d, i) => yTickLabels[i]));
  axis.select(".domain").attr("stroke", "#f00");
  axis.selectAll(".tick line").attr("stroke", "#f00");
  axis.selectAll(".tick text")
    .attr("fill", "#f00")
    .attr("font-size", 18)
    .attr("font-family", "Liberation Sans, Arial, sans-serif")
    .attr("text-anchor", "middle")
    .attr("dy", 0)
    .attr("x", 0)
    .attr("y", 0)
    .attr("transform", (d, i) => `translate(24,${yTickShift[i]}) rotate(-90)`);

  g.append("text")
    .attr("transform", `translate(${left + heatWidth + 50},${top + 187}) rotate(-90)`)
    .attr("text-anchor", "middle")
    .attr("font-size", 23)
    .attr("fill", "#f00")
    .text("Nucleotide Diversity");

  g.append("text")
    .attr("x", x(49.5))
    .attr("y", top + 398)
    .attr("text-anchor", "middle")
    .attr("font-size", 23.3)
    .text(xLabels[p]);
});
</script>
</body>
</html>
